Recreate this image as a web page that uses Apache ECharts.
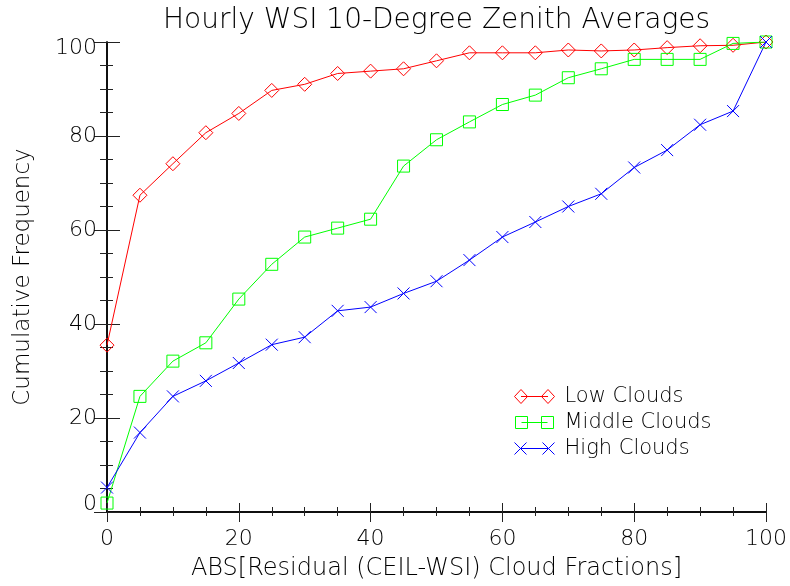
<!DOCTYPE html>
<html>
<head>
<meta charset="utf-8">
<script src="https://cdn.jsdelivr.net/npm/echarts@6/dist/echarts.min.js"></script>
<style>
  html, body { margin: 0; padding: 0; background: #fff; }
  #chart { width: 790px; height: 586px; }
</style>
</head>
<body>
<div id="chart"></div>
<script>
// Residual bins (absolute residual, cloud fraction %)
const residualBins = [0, 5, 10, 15, 20, 25, 30, 35, 40, 45, 50, 55, 60, 65, 70, 75, 80, 85, 90, 95, 100];

// Cumulative frequency (%) per cloud layer
const lowClouds = [35.5, 67.4, 74.1, 80.7, 84.8, 89.7, 91.0, 93.3, 93.8, 94.3, 96.0, 97.7, 97.7, 97.7, 98.3, 98.1, 98.3, 98.8, 99.2, 99.3, 100];
const middleClouds = [1.9, 24.6, 32.1, 36.0, 45.3, 52.7, 58.5, 60.4, 62.3, 73.6, 79.2, 83.0, 86.7, 88.7, 92.4, 94.3, 96.3, 96.3, 96.3, 99.7, 100];
const highClouds = [5.2, 16.9, 24.6, 27.9, 31.7, 35.6, 37.2, 42.8, 43.6, 46.5, 49.1, 53.6, 58.5, 61.7, 65.0, 67.7, 73.3, 77.0, 82.4, 85.3, 100];

const seriesNames = ['Low Clouds', 'Middle Clouds', 'High Clouds'];
const xTicks = [0, 20, 40, 60, 80, 100];
const yTicks = [0, 20, 40, 60, 80, 100];

const FONT = '"DejaVu Sans", sans-serif';
const FW = 200;

const xMark = 'path://M0,0L12,12M12,0L0,12';
// legend icons: two markers joined by a short line
const diamondPair = 'path://M0,7L6.5,0L13,7L6.5,14ZM6.5,7L33.5,7M27,7L33.5,0L40,7L33.5,14Z';
const squarePair = 'path://M1,1L13,1L13,13L1,13ZM7,7L33,7M27,1L39,1L39,13L27,13ZM0,0L0,0M40,14L40,14';
const crossPair = 'path://M0,1L12,13M12,1L0,13M6,7L34,7M28,1L40,13M40,1L28,13M0,0L0,0M40,14L40,14';

const pairs = ys => residualBins.map((x, i) => [x, ys[i]]);

function makeSeries(name, ys, color, symbol, size) {
  return {
    name: name,
    type: 'line',
    data: pairs(ys),
    symbol: symbol,
    symbolSize: size,
    showAllSymbol: true,
    clip: true,
    color: color,
    lineStyle: { color: color, width: 1 },
    itemStyle: { color: 'rgba(0,0,0,0)', borderColor: color, borderWidth: 1 },
    emphasis: { disabled: true },
    z: 3
  };
}

const axisLine = { show: true, lineStyle: { color: '#000', width: 1.5 } };
const tickStyle = { color: '#222', width: 1 };

function xAxisDef(pos, major, minor, withLabels) {
  return {
    type: 'value', position: pos, min: 0, max: 100, interval: 20,
    axisLine: axisLine,
    axisTick: { show: true, inside: true, length: major, lineStyle: tickStyle },
    minorTick: { show: true, splitNumber: 4, length: minor, lineStyle: tickStyle },
    splitLine: { show: false },
    axisLabel: withLabels ? {
      show: true, margin: 16, fontFamily: FONT, fontWeight: FW, fontSize: 22, color: '#000',
      formatter: v => xTicks.includes(v) ? String(v) : ''
    } : { show: false },
    name: withLabels ? 'ABS[Residual (CEIL-WSI) Cloud Fractions]' : '',
    nameLocation: 'middle', nameGap: 45,
    nameTextStyle: { fontFamily: FONT, fontWeight: FW, fontSize: 24, color: '#000' }
  };
}

function yAxisDef(pos, major, minor, withLabels) {
  return {
    type: 'value', position: pos, min: 0, max: 100, interval: 20,
    axisLine: axisLine,
    axisTick: { show: true, inside: true, length: major, lineStyle: tickStyle },
    minorTick: { show: true, splitNumber: 4, length: minor, lineStyle: tickStyle },
    splitLine: { show: false },
    axisLabel: withLabels ? {
      show: true, margin: 10, fontFamily: FONT, fontWeight: FW, fontSize: 22, color: '#000',
      formatter: v => {
        if (!yTicks.includes(v)) return '';
        if (v === 0) return '{lo|0}';
        if (v === 100) return '{hi|100}';
        return String(v);
      },
      rich: {
        lo: { fontFamily: FONT, fontWeight: FW, fontSize: 22, color: '#000', padding: [0, 0, 16, 0] },
        hi: { fontFamily: FONT, fontWeight: FW, fontSize: 22, color: '#000', padding: [12, 0, 0, 0] }
      }
    } : { show: false },
    name: withLabels ? 'Cumulative Frequency' : '',
    nameLocation: 'middle', nameGap: 72, nameRotate: 90,
    nameTextStyle: { fontFamily: FONT, fontWeight: FW, fontSize: 23, color: '#000' }
  };
}

const chart = echarts.init(document.getElementById('chart'), null, { renderer: 'canvas' });
chart.setOption({
  animation: false,
  backgroundColor: '#fff',
  title: {
    text: 'Hourly WSI 10-Degree Zenith Averages',
    left: 158, top: 2,
    textStyle: { fontFamily: FONT, fontWeight: FW, fontSize: 28, color: '#000' }
  },
  grid: { left: 107, right: 23, top: 42, bottom: 74, containLabel: false },
  xAxis: [xAxisDef('bottom', 9, 5, true), xAxisDef('top', 10, 4, false)],
  yAxis: [yAxisDef('left', 13, 6, true), yAxisDef('right', 13, 7, false)],
  legend: {
    orient: 'vertical', left: 509, top: 381, itemGap: 5,
    itemWidth: 40, itemHeight: 14,
    textStyle: { fontFamily: FONT, fontWeight: FW, fontSize: 21, color: '#000', padding: [0, 0, 0, 5] },
    selectedMode: false,
    data: [
      { name: seriesNames[0], icon: diamondPair, itemStyle: { color: 'rgba(0,0,0,0)', borderColor: '#ff0000', borderWidth: 1 } },
      { name: seriesNames[1], icon: squarePair, itemStyle: { color: 'rgba(0,0,0,0)', borderColor: '#00ff00', borderWidth: 1 } },
      { name: seriesNames[2], icon: crossPair, itemStyle: { color: 'rgba(0,0,0,0)', borderColor: '#0000ff', borderWidth: 1 } }
    ]
  },
  series: [
    makeSeries(seriesNames[0], lowClouds, '#ff0000', 'diamond', 14),
    makeSeries(seriesNames[1], middleClouds, '#00ff00', 'rect', 12),
    makeSeries(seriesNames[2], highClouds, '#0000ff', xMark, 12)
  ]
});
</script>
</body>
</html>
